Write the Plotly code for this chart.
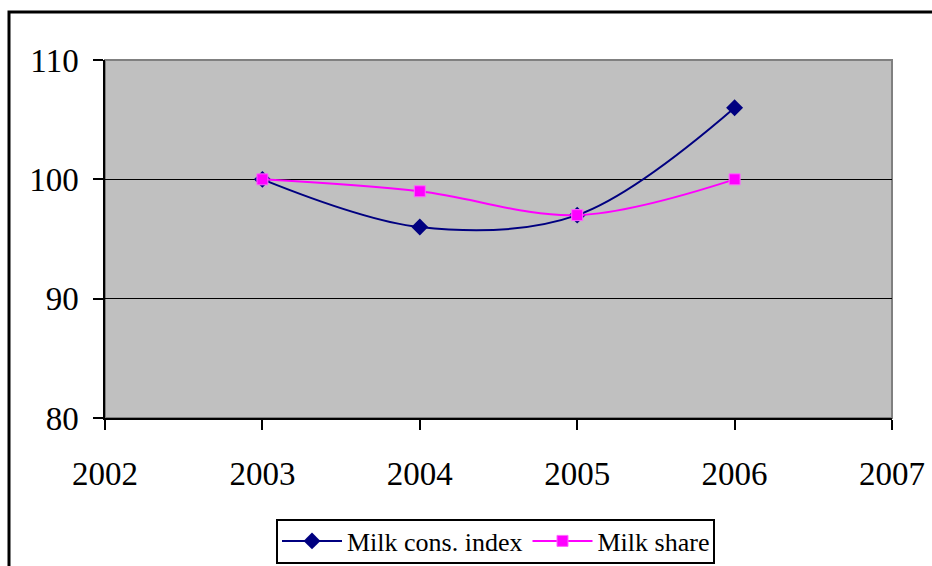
import plotly.graph_objects as go

years = [2003, 2004, 2005, 2006]
milk_cons_index = [100, 96, 97, 106]
milk_share = [100, 99, 97, 100]

x_ticks = [2002, 2003, 2004, 2005, 2006, 2007]
y_ticks = [80, 90, 100, 110]

FONT = "Liberation Serif, Times New Roman, serif"

fig = go.Figure()

fig.add_trace(go.Scatter(
    x=years, y=milk_cons_index, name="Milk cons. index",
    mode="lines+markers",
    line=dict(color="#000080", width=2, shape="spline", smoothing=1.0),
    marker=dict(symbol="diamond", size=13, color="#000080"),
))
fig.add_trace(go.Scatter(
    x=years, y=milk_share, name="Milk share",
    mode="lines+markers",
    line=dict(color="#FF00FF", width=2, shape="spline", smoothing=1.0),
    marker=dict(symbol="square", size=11, color="#FF00FF",
                line=dict(color="#FF66FF", width=1)),
))

L, R, T, B = 105, 40, 60, 148
W, H = 932, 566
pw, ph = W - L - R, H - T - B

def px_x(px):
    return (px - L) / pw

def px_y(py):
    return 1 - (py - T) / ph

shapes = [
    # grey frame of the plotting area
    dict(type="rect", xref="paper", yref="paper", x0=0, x1=1, y0=0, y1=1,
         line=dict(color="#808080", width=2), layer="below"),
    # outer chart border
    dict(type="rect", xref="paper", yref="paper",
         x0=px_x(9), x1=px_x(W + 20), y0=px_y(H + 20), y1=px_y(12),
         line=dict(color="black", width=3)),
    # legend frame
    dict(type="rect", xref="paper", yref="paper",
         x0=px_x(277), x1=px_x(714), y0=px_y(563), y1=px_y(520),
         line=dict(color="black", width=2), fillcolor="white", layer="below"),
]

fig.update_layout(
    width=W, height=H,
    margin=dict(l=L, r=R, t=T, b=B, autoexpand=False),
    paper_bgcolor="white",
    plot_bgcolor="#C0C0C0",
    font=dict(family=FONT, color="black", size=33),
    showlegend=True,
    legend=dict(
        orientation="h", x=px_x(496), xanchor="center",
        y=px_y(541), yanchor="middle",
        font=dict(family=FONT, size=26),
        borderwidth=0, bgcolor="rgba(0,0,0,0)",
        itemwidth=60, tracegroupgap=0,
    ),
    shapes=shapes,
    xaxis=dict(
        range=[2002, 2007], tickvals=x_ticks, ticktext=[str(v) for v in x_ticks],
        showgrid=False, zeroline=False,
        showline=True, linecolor="black", linewidth=1.5,
        ticks="outside", ticklen=10, tickcolor="black", tickwidth=1.5,
        ticklabelstandoff=16,
    ),
    yaxis=dict(
        range=[80, 110], tickvals=y_ticks,
        showgrid=True, gridcolor="black", gridwidth=1,
        zeroline=False,
        showline=True, linecolor="black", linewidth=1.5,
        ticks="outside", ticklen=10, tickcolor="black", tickwidth=1.5,
        ticklabelstandoff=8,
    ),
)

fig.write_html("out.html")
